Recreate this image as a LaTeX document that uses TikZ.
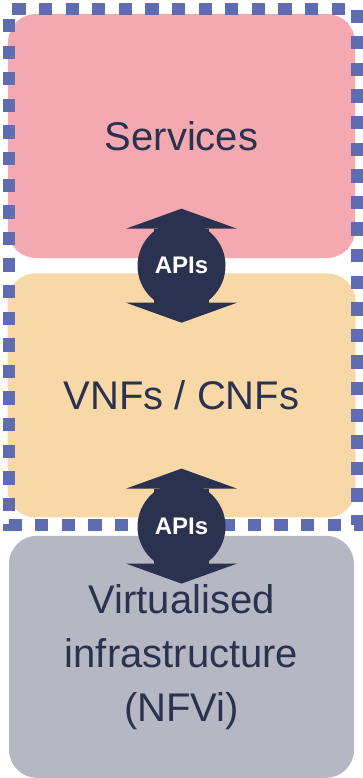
\documentclass[tikz,border=0pt]{standalone}
\usepackage{fontspec}
\setmainfont{Liberation Sans}
\usetikzlibrary{positioning, calc, arrows.meta}
\definecolor{svcpink}{RGB}{244,168,176}
\definecolor{vnfsand}{RGB}{249,216,168}
\definecolor{infragrey}{RGB}{181,184,194}
\definecolor{navy}{RGB}{42,50,80}
\definecolor{dashblue}{RGB}{96,108,178}
\tikzstyle{layer} = [rectangle, rounded corners=28pt, text centered, align=center, text=navy, inner sep=0pt, font=\fontsize{40}{54}\selectfont]
\tikzstyle{apis} = [circle, fill=navy, text=white, inner sep=0pt, minimum size=88pt, font=\bfseries\fontsize{24}{28}\selectfont]
\tikzstyle{apiarrow} = [navy, line width=55pt, -{Triangle[width=111pt, length=20pt, line width=0pt]}]
\tikzstyle{border} = [dashblue, line width=12.5pt, dash pattern=on 13.3pt off 13.3pt, dash phase=16.6pt]

\begin{document}
\begin{tikzpicture}[x=1pt, y=-1pt]
	\useasboundingbox (0,0) rectangle (363,778);
	\node [layer, fill=svcpink, minimum width=347pt, minimum height=244pt] (s) at (181.5,136) {Services};
	\node [layer, fill=vnfsand, below = 15pt of s, minimum width=348pt, minimum height=244pt] (v) {VNFs / CNFs};
	\node [layer, fill=infragrey, below = 18pt of v, minimum width=345pt, minimum height=242pt] (g) {Virtualised\\ infrastructure\\ (NFVi)};
	\draw [border] (9,9) -- (9,525) -- (357.5,525) -- (357.5,9) -- cycle;
	% APIs between the layers
	\coordinate (c1) at ($(s.south)!0.5!(v.north)$);
	\coordinate [above = 57pt of c1] (c1u);
	\coordinate [below = 57pt of c1] (c1d);
	\coordinate (c2) at ($(v.south)!0.5!(g.north)$);
	\coordinate [above = 58pt of c2] (c2u);
	\coordinate [below = 57pt of c2] (c2d);
	\draw [apiarrow] (c1) -- (c1u);
	\draw [apiarrow] (c1) -- (c1d);
	\draw [apiarrow] (c2) -- (c2u);
	\draw [apiarrow] (c2) -- (c2d);
	\node [apis] (a1) at (c1) {APIs};
	\node [apis] (a2) at (c2) {APIs};
\end{tikzpicture}
\end{document}
